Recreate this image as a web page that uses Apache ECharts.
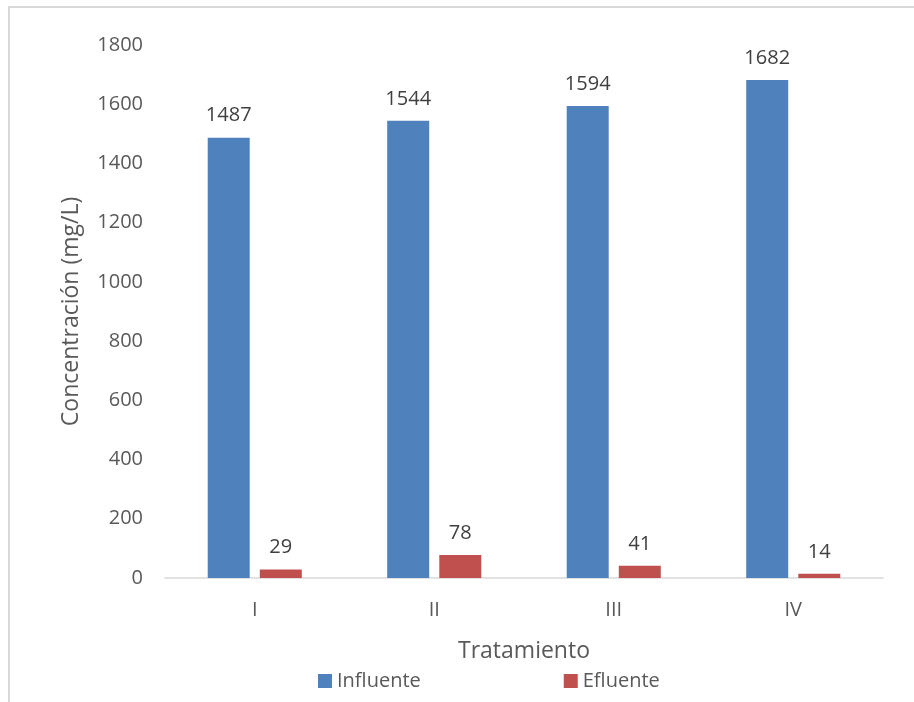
<!DOCTYPE html>
<html><head><meta charset="utf-8">
<script src="https://cdn.jsdelivr.net/npm/echarts@6/dist/echarts.min.js"></script>
<style>
html,body{margin:0;padding:0;background:#fff;}
#frame{position:absolute;left:8px;top:6px;width:920px;height:710px;border:2px solid #d9d9d9;box-sizing:border-box;}
#c{position:absolute;left:0;top:0;width:914px;height:702px;}
</style></head>
<body>
<div id="frame"></div>
<div id="c"></div>
<script>
const categories = ['I', 'II', 'III', 'IV'];
const influente = [1487, 1544, 1594, 1682];
const efluente = [29, 78, 41, 14];
const yTicks = { min: 0, max: 1800, interval: 200 };

const font = '"Open Sans", "Noto Sans", sans-serif';
const chart = echarts.init(document.getElementById('c'));
const labelStyle = { show: true, position: 'top', distance: 12, color: '#404040', fontSize: 20, fontFamily: font };
chart.setOption({
  animation: false,
  grid: { left: 165, right: 31, top: 45, bottom: 124, containLabel: false },
  legend: {
    top: 666, left: 313, itemGap: 143, itemWidth: 14, itemHeight: 14,
    icon: 'rect',
    textStyle: { color: '#595959', fontSize: 20, fontFamily: font },
    data: ['Influente', 'Efluente']
  },
  xAxis: {
    type: 'category', data: categories,
    name: 'Tratamiento', nameLocation: 'middle', nameGap: 62,
    nameTextStyle: { color: '#595959', fontSize: 23, fontFamily: font },
    axisLine: { lineStyle: { color: '#d9d9d9', width: 1.5 } },
    axisTick: { show: false },
    axisLabel: { color: '#595959', fontSize: 20, fontFamily: font, margin: 22 }
  },
  yAxis: {
    type: 'value', min: yTicks.min, max: yTicks.max, interval: yTicks.interval,
    name: 'Concentración (mg/L)', nameLocation: 'middle', nameGap: 82, nameRotate: 90,
    nameTextStyle: { color: '#595959', fontSize: 23, fontFamily: font },
    axisLine: { show: false }, axisTick: { show: false },
    splitLine: { show: false },
    axisLabel: { color: '#595959', fontSize: 20, fontFamily: font, margin: 22,
      formatter: v => String(v) }
  },
  series: [
    { name: 'Influente', type: 'bar', data: influente, barWidth: 42, barGap: '24%',
      itemStyle: { color: '#4f81bd' }, label: labelStyle },
    { name: 'Efluente', type: 'bar', data: efluente, barWidth: 42,
      itemStyle: { color: '#c0504d' }, label: labelStyle }
  ]
});
</script>
</body></html>
